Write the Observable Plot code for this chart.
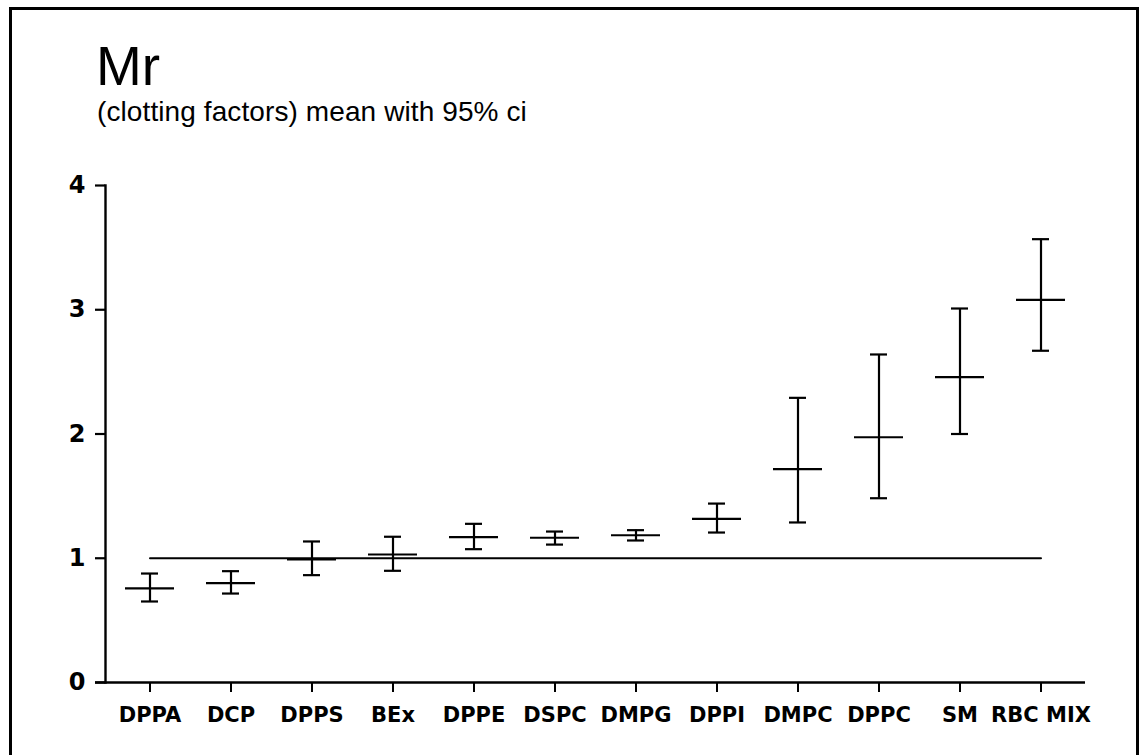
<!DOCTYPE html>
<html>
<head>
<meta charset="utf-8">
<script src="https://cdn.jsdelivr.net/npm/d3@7"></script>
<script src="https://cdn.jsdelivr.net/npm/@observablehq/plot@0.6"></script>
<style>
  html, body { margin: 0; padding: 0; background: #fff; }
  #wrap { position: relative; width: 1139px; height: 755px; overflow: hidden; background: #fff;
          font-family: "Liberation Sans", Arial, Helvetica, sans-serif; color: #000; }
  #border { position: absolute; left: 9px; top: 7px; width: 1124px; height: 800px;
            border: 3.5px solid #000; border-bottom: none; box-sizing: content-box; }
  #title { position: absolute; left: 96px; top: 39px; font-size: 55px; line-height: 55px; white-space: nowrap; }
  #subtitle { position: absolute; left: 97px; top: 98px; font-size: 28px; line-height: 28px; white-space: nowrap; letter-spacing: 0.1px; }
  #chart { position: absolute; left: 0; top: 0; }
</style>
</head>
<body>
<div id="wrap">
  <div id="border"></div>
  <div id="title">Mr</div>
  <div id="subtitle">(clotting factors) mean with 95% ci</div>
  <div id="chart"></div>
</div>
<script>
const categories = ["DPPA", "DCP", "DPPS", "BEx", "DPPE", "DSPC", "DMPG", "DPPI", "DMPC", "DPPC", "SM", "RBC MIX"];
const means = [0.757, 0.80, 0.99, 1.03, 1.17, 1.165, 1.185, 1.317, 1.717, 1.974, 2.457, 3.08];
const lower = [0.652, 0.716, 0.864, 0.899, 1.073, 1.11, 1.143, 1.207, 1.288, 1.483, 2.0, 2.67];
const upper = [0.877, 0.896, 1.135, 1.173, 1.277, 1.215, 1.226, 1.44, 2.291, 2.64, 3.01, 3.568];
const yTicks = [0, 1, 2, 3, 4];
const referenceValue = 1;

const data = categories.map((c, i) => ({cat: c, mean: means[i], lo: lower[i], hi: upper[i]}));
const refLine = [
  {cat: categories[0], v: referenceValue},
  {cat: categories[categories.length - 1], v: referenceValue}
];

const chart = Plot.plot({
  width: 1139,
  height: 755,
  marginLeft: 105,
  marginRight: 54,
  marginTop: 185,
  marginBottom: 73,
  style: {
    fontFamily: "'DejaVu Sans', Verdana, sans-serif",
    fontWeight: "bold",
    fontSize: "21px",
    color: "#000",
    background: "transparent",
    overflow: "visible"
  },
  x: {type: "band", domain: categories, padding: 0},
  y: {domain: [0, 4]},
  marks: [
    Plot.axisY({ticks: yTicks, tickFormat: "d", tickSize: 10, tickPadding: 10, label: null, strokeWidth: 2.2, stroke: "#000", fill: "#000", fontSize: 24}),
    Plot.axisX({tickSize: 10, tickPadding: 15, label: null, strokeWidth: 2, stroke: "#000", fill: "#000", fontSize: 21}),
    Plot.frame({anchor: "left", strokeWidth: 2.4, stroke: "#000"}),
    Plot.ruleY([0], {insetLeft: -10, strokeWidth: 2.4, stroke: "#000"}),
    Plot.line(refLine, {x: "cat", y: "v", strokeWidth: 2, stroke: "#000"}),
    Plot.ruleX(data, {x: "cat", y1: "lo", y2: "hi", strokeWidth: 2.2, stroke: "#000"}),
    Plot.tickY(data, {x: "cat", y: "mean", insetLeft: 16, insetRight: 16, strokeWidth: 2.2, stroke: "#000"}),
    Plot.tickY(data, {x: "cat", y: "lo", insetLeft: 32, insetRight: 32, strokeWidth: 2.2, stroke: "#000"}),
    Plot.tickY(data, {x: "cat", y: "hi", insetLeft: 32, insetRight: 32, strokeWidth: 2.2, stroke: "#000"})
  ]
});
document.getElementById("chart").appendChild(chart);
</script>
</body>
</html>
